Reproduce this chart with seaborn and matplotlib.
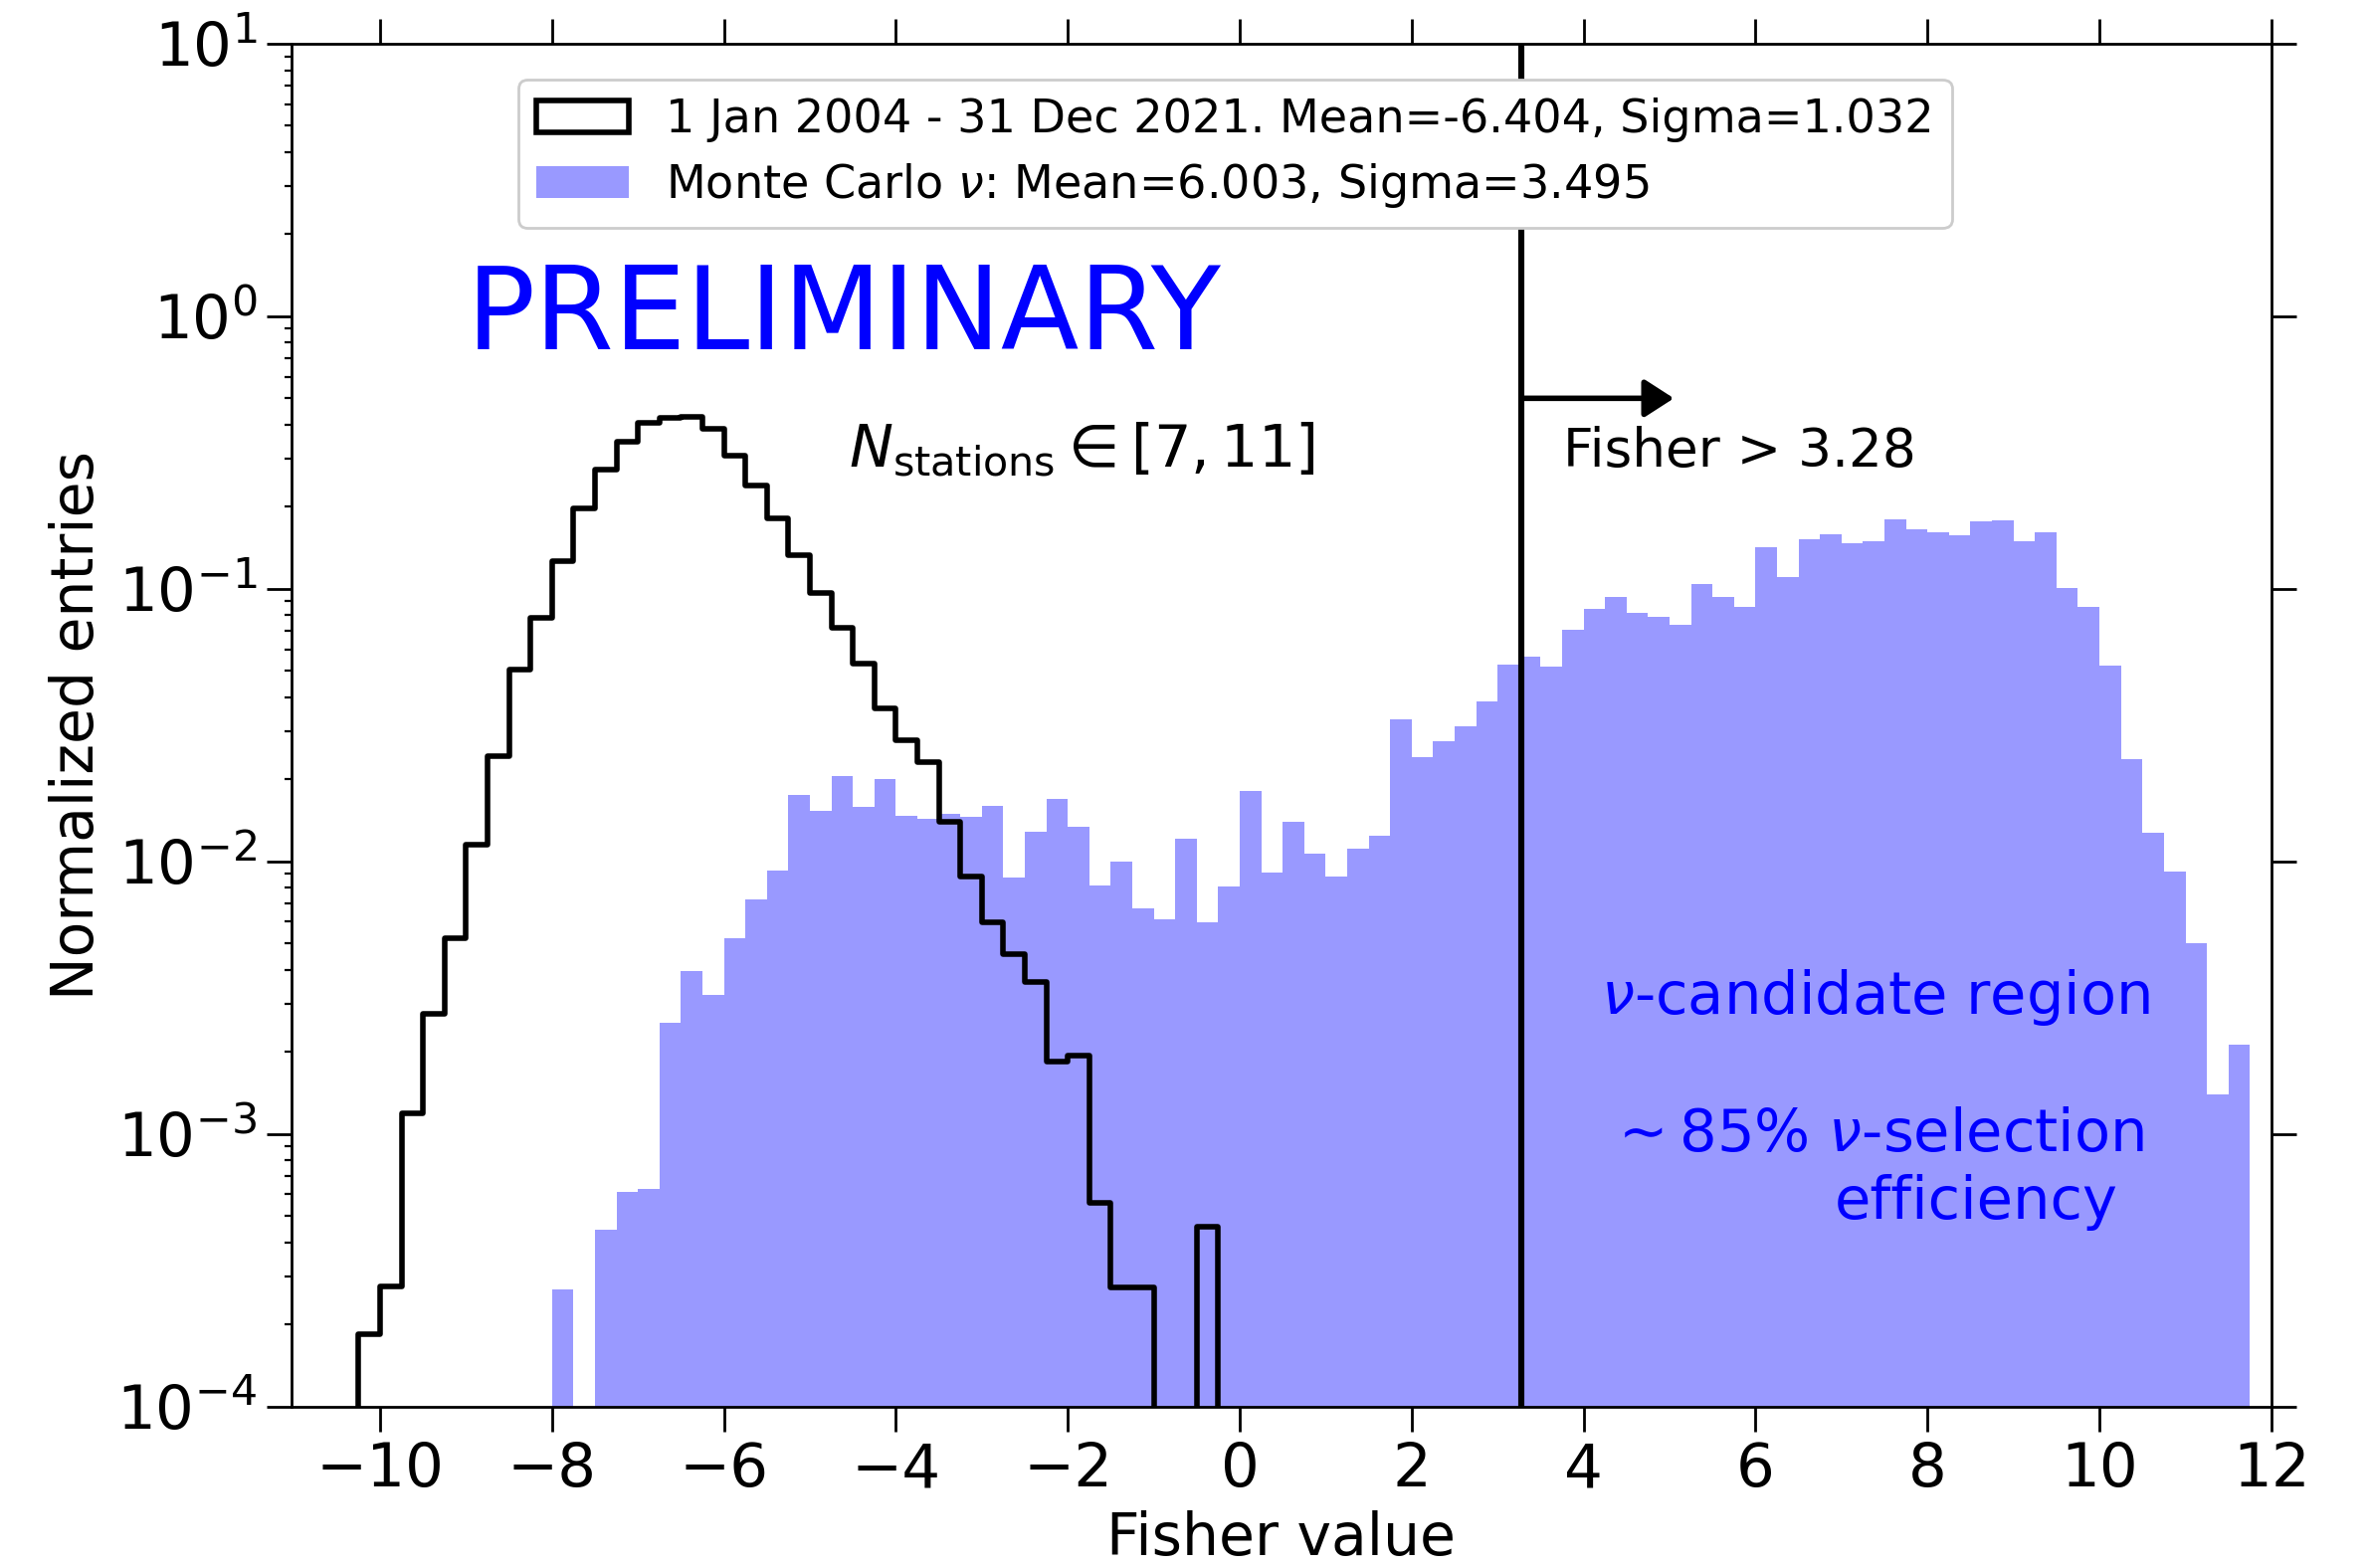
import numpy as np
import pandas as pd
import matplotlib
matplotlib.use("Agg")
import matplotlib.pyplot as plt
import seaborn as sns
from matplotlib.patches import Patch

# ---------------------------------------------------------------------------
# Normalised Fisher-value distributions, 0.25-wide bins
# ---------------------------------------------------------------------------
bin_width = 0.25

# Measured data (1 Jan 2004 - 31 Dec 2021), first bin starts at -10.5
data_first_edge = -10.5
data_density = [
    0.0,      1.84e-4, 2.75e-4, 1.19e-3, 2.76e-3, 5.24e-3, 1.15e-2, 2.43e-2,
    5.04e-2,  7.83e-2, 0.1265,  0.1977,  0.2733,  0.3453,  0.4061,  0.424,
    0.429,    0.3861,  0.3072,  0.2389,  0.1818,  0.1330,  0.0968,  0.0721,
    0.0530,   0.0365,  0.0279,  0.0231,  0.0140,  8.79e-3, 5.95e-3, 4.58e-3,
    3.60e-3,  1.84e-3, 1.93e-3, 5.56e-4, 2.72e-4, 2.72e-4, 0.0,     0.0,
    4.57e-4,  0.0,
]

# Monte Carlo neutrino showers, first bin starts at -8.0
mc_first_edge = -8.0
mc_density = [
    2.69e-4, 0.0,     4.45e-4, 6.11e-4, 6.28e-4, 2.55e-3, 3.96e-3, 3.22e-3,
    5.24e-3, 7.23e-3, 9.25e-3, 0.01747, 0.01537, 0.02054, 0.01580, 0.01998,
    0.01468, 0.01428, 0.01494, 0.01456, 0.01597, 8.70e-3, 0.01285, 0.01698,
    0.01337, 8.18e-3, 0.0100,  6.73e-3, 6.12e-3, 0.01215, 5.95e-3, 8.09e-3,
    0.01812, 9.09e-3, 0.01401, 0.01063, 8.77e-3, 0.01108, 0.01242, 0.03305,
    0.02419, 0.02754, 0.03136, 0.03861, 0.05253, 0.05617, 0.05195, 0.07101,
    0.08431, 0.09350, 0.08175, 0.07874, 0.07365, 0.1038,  0.0935,  0.0860,
    0.1418,  0.1104,  0.1525,  0.1590,  0.1471,  0.1495,  0.1792,  0.1649,
    0.1606,  0.1573,  0.1764,  0.1783,  0.1495,  0.1606,  0.1006,  0.0860,
    0.0522,  0.02369, 0.01275, 9.19e-3, 5.00e-3, 1.397e-3, 2.12e-3,
]

fisher_cut = 3.28
legend_labels = [
    "1 Jan 2004 - 31 Dec 2021. Mean=-6.404, Sigma=1.032",
    r"Monte Carlo $\nu$: Mean=6.003, Sigma=3.495",
]
x_ticks = [-10, -8, -6, -4, -2, 0, 2, 4, 6, 8, 10, 12]


def binned_frame(first_edge, density):
    edges = first_edge + bin_width * np.arange(len(density) + 1)
    centers = 0.5 * (edges[:-1] + edges[1:])
    return pd.DataFrame({"fisher": centers, "density": density}), edges.tolist()


data_df, data_edges = binned_frame(data_first_edge, data_density)
mc_df, mc_edges = binned_frame(mc_first_edge, mc_density)

# ---------------------------------------------------------------------------
# Figure
# ---------------------------------------------------------------------------
plt.rcParams["font.family"] = ["DejaVu Sans"]
plt.rcParams["axes.linewidth"] = 1.0

fig = plt.figure(figsize=(2382 / 200, 1576 / 200), dpi=200)
ax = fig.add_axes([0.1230, 0.1031, 0.8354, 0.8690])

# Monte Carlo: filled light-blue histogram
sns.histplot(data=mc_df, x="fisher", weights="density", bins=mc_edges,
             stat="count", element="step", fill=True, color="blue",
             alpha=0.4, linewidth=0, ax=ax)

# Data: black step outline
sns.histplot(data=data_df, x="fisher", weights="density", bins=data_edges,
             stat="count", element="step", fill=False, color="black",
             linewidth=2.0, ax=ax)

ax.set_yscale("log")
ax.set_xlim(-11.03, 12.0)
ax.set_ylim(1e-4, 10)

# Selection cut
ax.axvline(fisher_cut, color="black", lw=2.2, zorder=5)
ax.annotate("", xy=(5.05, 0.5), xytext=(fisher_cut, 0.5),
            arrowprops=dict(arrowstyle="-|>,head_length=0.45,head_width=0.29",
                            mutation_scale=20, lw=2.0, color="black",
                            shrinkA=0, shrinkB=0))
ax.text(3.76, 0.28, f"Fisher > {fisher_cut}", fontsize=19.2, color="black")

# Annotations
ax.text(-9.0, 0.76, "PRELIMINARY", fontsize=41.3, color="blue")
ax.text(-4.55, 0.28, r"$N_{\rm stations} \in [7, 11]$", fontsize=21.2,
        color="black")
ax.text(4.2, 2.75e-3, r"$\nu$-candidate region", fontsize=21.3, color="blue")
ax.text(4.27, 8.67e-4, r"$\sim 85\%$ $\nu$-selection", fontsize=21.3,
        color="blue")
ax.text(6.92, 4.88e-4, "efficiency", fontsize=21.3, color="blue")

# Axes labels and ticks
ax.set_xlabel("Fisher value", fontsize=21)
ax.set_ylabel("Normalized entries", fontsize=21)
ax.set_xticks(x_ticks)
ax.tick_params(axis="both", which="major", direction="out", length=9,
               width=1.0, labelsize=22, top=True, right=True,
               labeltop=False, labelright=False)
ax.tick_params(axis="y", which="minor", direction="out", length=2.5,
               width=0.8, left=True, right=False)
ax.tick_params(axis="x", which="minor", bottom=False, top=False)

# Legend
handles = [
    Patch(facecolor="none", edgecolor="black", linewidth=2.0),
    Patch(facecolor=(0.6, 0.6, 1.0), edgecolor="none"),
]
ax.legend(handles, legend_labels, loc="upper left",
          bbox_to_anchor=(0.1146, 0.9737), borderaxespad=0, fontsize=16.6,
          labelspacing=0.4, framealpha=1.0)

fig.savefig("out.png", dpi=200)
